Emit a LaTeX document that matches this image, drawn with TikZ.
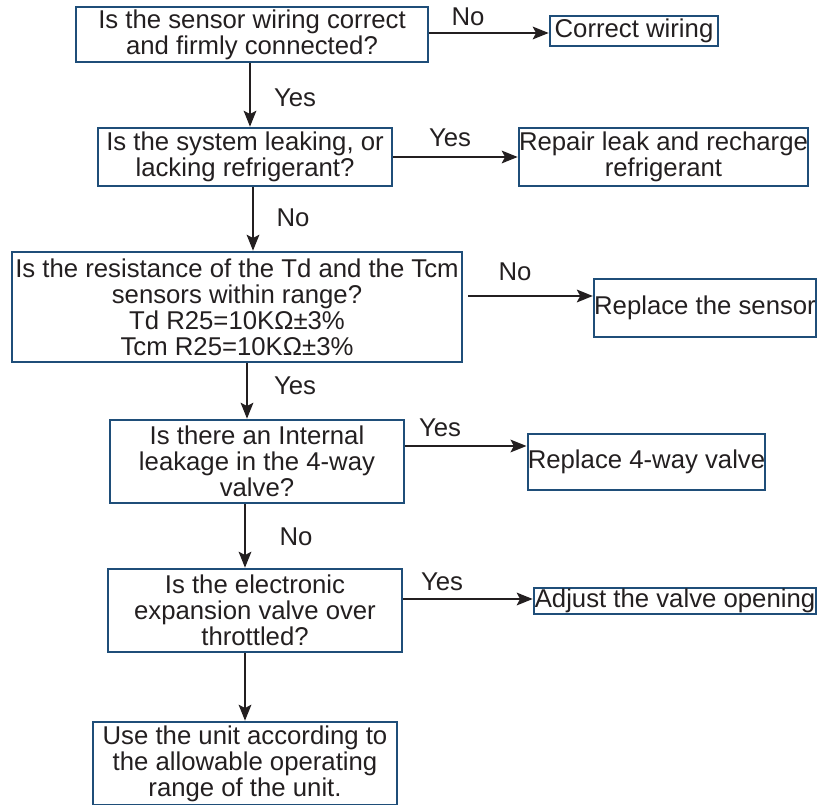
\documentclass[tikz,border=0pt]{standalone}
\usepackage{fontspec}
\setmainfont{Liberation Sans}
\usetikzlibrary{arrows.meta}

\definecolor{boxblue}{HTML}{1F4E79}
\definecolor{ink}{HTML}{231F20}

\tikzset{
    box/.style={draw=boxblue, line width=1.9pt, inner sep=0pt, align=center,
        text=ink, font=\fontsize{19.3}{19.5}\selectfont},
    flow/.style={draw=ink, line width=1.5pt, -{Stealth[length=12pt,width=9.5pt,inset=2.5pt]}},
    lbl/.style={text=ink, font=\fontsize{19.3}{19.5}\selectfont}
}

\begin{document}
\begin{tikzpicture}[x=0.75pt, y=-0.75pt]
    \useasboundingbox (0,0) rectangle (817,805);

    % Questions
    \node[box, minimum width=264pt, minimum height=41.25pt] (wiring) at (252,34.5)
        {Is the sensor wiring correct\\and firmly connected?};
    \node[box, minimum width=220.5pt, minimum height=43.5pt] (leak) at (245,157)
        {Is the system leaking, or\\lacking refrigerant?};
    \node[box, minimum width=337.5pt, minimum height=82.5pt] (resist) at (237,307)
        {Is the resistance of the Td and the Tcm\\sensors within range?\\Td R25=10KΩ±3\%\\Tcm R25=10KΩ±3\%};
    \node[box, minimum width=220.5pt, minimum height=62.25pt] (intleak) at (257,461.5)
        {Is there an Internal\\leakage in the 4-way\\valve?};
    \node[box, minimum width=220.5pt, minimum height=62.25pt] (eev) at (255,610.5)
        {Is the electronic\\expansion valve over\\throttled?};
    \node[box, minimum width=228pt, minimum height=62.25pt] (useunit) at (245,763.5)
        {Use the unit according to\\the allowable operating\\range of the unit.};

    % Actions
    \node[box, minimum width=126pt, minimum height=22.5pt] (fixwire) at (634,31) {Correct wiring};
    \node[box, minimum width=216.75pt, minimum height=43.5pt] (repair) at (663.5,157)
        {Repair leak and recharge\\refrigerant};
    \node[box, minimum width=165pt, minimum height=43.5pt] (sensor) at (705,308) {Replace the sensor};
    \node[box, minimum width=174.75pt, minimum height=42pt] (valve) at (646.5,462) {Replace 4-way valve};
    \node[box, minimum width=211.5pt, minimum height=19.5pt] (adjust) at (675,601) {Adjust the valve opening};

    % Main line
    \draw[flow] (wiring.south -| 250,0) -- (leak.north -| 250,0);
    \draw[flow] (leak.south -| 253,0) -- (resist.north -| 253,0);
    \draw[flow] (resist.south -| 247,0) -- (intleak.north -| 247,0);
    \draw[flow] (intleak.south -| 245,0) -- (eev.north -| 245,0);
    \draw[flow] (eev.south -| 245,0) -- (useunit.north -| 245,0);
    \node[lbl] (y1) at (295,98) {Yes};
    \node[lbl] (n2) at (293,218) {No};
    \node[lbl] (y3) at (295,386) {Yes};
    \node[lbl] (n4) at (296,537) {No};

    % Side branches
    \draw[flow] (wiring.east |- 0,33) -- (fixwire.west |- 0,33);
    \draw[flow] (leak) -- (repair);
    \coordinate (c3) at (468,296);
    \draw[flow] (c3) -- (c3 -| sensor.west);
    \draw[flow] (intleak.east |- 0,446) -- (valve.west |- 0,446);
    \draw[flow] (eev.east |- 0,599) -- (adjust.west |- 0,599);
    \node[lbl] (n1) at (468,17) {No};
    \node[lbl] (y2) at (450,138) {Yes};
    \node[lbl] (n3) at (515,272) {No};
    \node[lbl] (y4) at (440,428) {Yes};
    \node[lbl] (y5) at (442,582) {Yes};
\end{tikzpicture}
\end{document}
